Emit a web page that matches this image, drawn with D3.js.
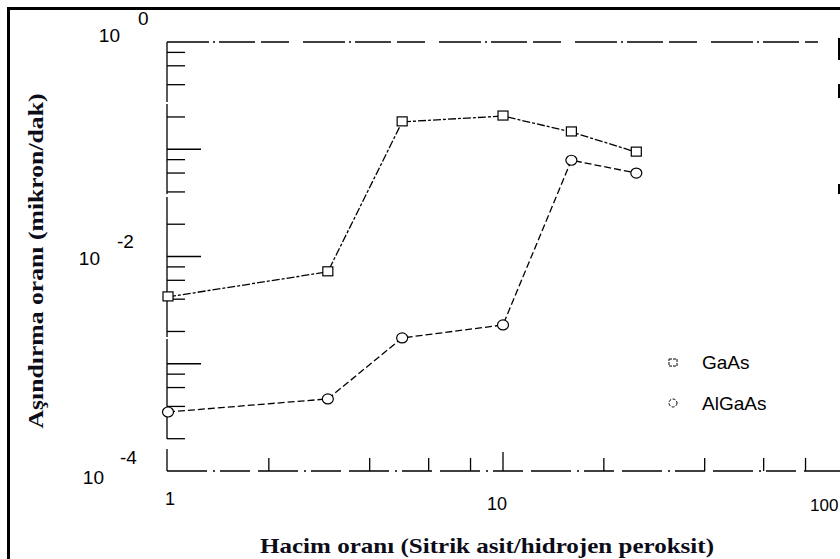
<!DOCTYPE html>
<html>
<head>
<meta charset="utf-8">
<script src="https://cdn.jsdelivr.net/npm/d3@7"></script>
<style>
  body { margin: 0; background: #fff; }
</style>
</head>
<body>
<div id="chart"></div>
<script>
// data
var gaasX = [1, 3, 5, 10, 16, 25];
var gaasY = [0.0042, 0.0072, 0.18, 0.204, 0.145, 0.094];
var algaasX = [1, 3, 5, 10, 16, 25];
var algaasY = [0.000355, 0.00047, 0.00174, 0.0023, 0.079, 0.060];

var seriesNames = ['GaAs', 'AlGaAs'];
var xTickLabels = ['1', '10', '100'];
var yTickExponents = [0, -2, -4];
var xTitle = 'Hacim oranı (Sitrik asit/hidrojen peroksit)';
var yTitle = 'Aşındırma oranı (mikron/dak)';

var width = 840;
var height = 559;
var plot = {left: 167, right: 838, top: 42, bottom: 471};

// the scanned labels are not lined up evenly, small nudges per label
// [base dx, base dy, exponent dx, exponent dy]
var yLabelNudge = {'0': [8, -7, 4, 0], '-2': [-12, 1, 3, 0], '-4': [-8, 6, 2, -3]};
var xLabelNudge = {'1': [2, 34], '10': [-6, 39], '100': [-28, 40]};

var svg = d3.select('#chart')
    .append('svg')
    .attr('width', width)
    .attr('height', height)
    .style('font-family', '"Liberation Sans", Arial, sans-serif');

var x = d3.scaleLog().domain([1, 100]).range([plot.left + 1, plot.right]);
var y = d3.scaleLog().domain([1e-4, 1]).range([plot.bottom, plot.top]);

// outer frame (runs off the right and bottom of the scan)
svg.append('rect')
    .attr('x', 8.5).attr('y', 8.5)
    .attr('width', 900).attr('height', 700)
    .attr('fill', 'none')
    .attr('stroke', '#000')
    .attr('stroke-width', 3);

// axes frame, broken like a photocopy
svg.append('line')
    .attr('x1', plot.left).attr('x2', plot.left)
    .attr('y1', plot.top).attr('y2', plot.bottom)
    .attr('stroke', '#000').attr('stroke-width', 1.3)
    .attr('stroke-dasharray', '60,2,90,3,140,2,100,10,40');

svg.append('line')
    .attr('x1', plot.left).attr('x2', 818)
    .attr('y1', plot.top).attr('y2', plot.top)
    .attr('stroke', '#000').attr('stroke-width', 1.3)
    .attr('stroke-dasharray', '42,4,2,4,36,6,28,14');

svg.append('line')
    .attr('x1', plot.left).attr('x2', width)
    .attr('y1', plot.bottom).attr('y2', plot.bottom)
    .attr('stroke', '#000').attr('stroke-width', 1.3)
    .attr('stroke-dasharray', '40,6,2,5,30,8');

// right axis, mostly cut off by the scan
svg.append('line')
    .attr('x1', 839).attr('x2', 839)
    .attr('y1', 38).attr('y2', 200)
    .attr('stroke', '#000').attr('stroke-width', 2)
    .attr('stroke-dasharray', '22,24,14,86,10');

// y ticks: decades long, 2/4/6/8 short, pointing inward
var yTicks = [];
for (var e = -4; e < 0; e++) {
    [2, 4, 6, 8].forEach(function(m) { yTicks.push({v: m * Math.pow(10, e), major: false}); });
    if (e > -4) yTicks.push({v: Math.pow(10, e), major: true});
}
svg.selectAll('line.ytick')
    .data(yTicks)
    .enter().append('line')
    .attr('class', 'ytick')
    .attr('x1', plot.left)
    .attr('x2', function(d) { return plot.left + (d.major ? 34 : 18); })
    .attr('y1', function(d) { return y(d.v); })
    .attr('y2', function(d) { return y(d.v); })
    .attr('stroke', '#000').attr('stroke-width', 1.3);

// x ticks pointing up
var xTicks = [];
[1, 10].forEach(function(dec) {
    [2, 4, 6, 8].forEach(function(m) { xTicks.push({v: m * dec, major: false}); });
});
xTicks.push({v: 10, major: true});
svg.selectAll('line.xtick')
    .data(xTicks)
    .enter().append('line')
    .attr('class', 'xtick')
    .attr('x1', function(d) { return x(d.v); })
    .attr('x2', function(d) { return x(d.v); })
    .attr('y1', plot.bottom)
    .attr('y2', function(d) { return plot.bottom - (d.major ? 19 : 13); })
    .attr('stroke', '#000').attr('stroke-width', 1.3);

// y tick labels: "10" with a raised exponent
var ylab = svg.selectAll('g.ylab')
    .data(yTickExponents)
    .enter().append('g')
    .attr('class', 'ylab')
    .attr('transform', function(d) {
        var n = yLabelNudge[String(d)];
        return 'translate(' + n[0] + ',' + (y(Math.pow(10, d)) + n[1]) + ')';
    });

ylab.append('text')
    .attr('x', 112)
    .attr('y', 7)
    .attr('text-anchor', 'end')
    .style('font-size', '19px')
    .text('10');

ylab.append('text')
    .attr('x', function(d) { return 126 + yLabelNudge[String(d)][2]; })
    .attr('y', function(d) { return -10 + yLabelNudge[String(d)][3]; })
    .style('font-size', '19px')
    .text(function(d) { return d === 0 ? '0' : '-' + Math.abs(d); });

// x tick labels
svg.selectAll('text.xlab')
    .data(xTickLabels)
    .enter().append('text')
    .attr('class', 'xlab')
    .attr('x', function(d) { return x(+d) + xLabelNudge[d][0]; })
    .attr('y', function(d) { return plot.bottom + xLabelNudge[d][1]; })
    .attr('text-anchor', function(d) { return d === '100' ? 'start' : 'middle'; })
    .style('font-size', function(d) { return d === '100' ? '17px' : '18px'; })
    .text(function(d) { return d; });

// series lines
var line = d3.line()
    .x(function(d) { return x(d[0]); })
    .y(function(d) { return y(d[1]); });

var gaas = d3.zip(gaasX, gaasY);
var algaas = d3.zip(algaasX, algaasY);

svg.append('path')
    .datum(gaas)
    .attr('d', line)
    .attr('fill', 'none')
    .attr('stroke', '#000').attr('stroke-width', 1.3)
    .attr('stroke-dasharray', '8,2,3,2');

svg.append('path')
    .datum(algaas)
    .attr('d', line)
    .attr('fill', 'none')
    .attr('stroke', '#000').attr('stroke-width', 1.3)
    .attr('stroke-dasharray', '7,3');

// markers
svg.selectAll('rect.sq')
    .data(gaas)
    .enter().append('rect')
    .attr('class', 'sq')
    .attr('x', function(d) { return x(d[0]) - 5; })
    .attr('y', function(d) { return y(d[1]) - 5; })
    .attr('width', 10).attr('height', 9)
    .attr('fill', '#fff')
    .attr('stroke', '#000').attr('stroke-width', 1.2);

svg.selectAll('ellipse.ci')
    .data(algaas)
    .enter().append('ellipse')
    .attr('class', 'ci')
    .attr('cx', function(d) { return x(d[0]); })
    .attr('cy', function(d) { return y(d[1]); })
    .attr('rx', 5.5).attr('ry', 5)
    .attr('fill', '#fff')
    .attr('stroke', '#000').attr('stroke-width', 1.2);

// legend
var legend = svg.selectAll('g.legend')
    .data(seriesNames)
    .enter().append('g')
    .attr('class', 'legend')
    .attr('transform', function(d, i) { return 'translate(673,' + (362 + i * 41) + ')'; });

legend.each(function(d, i) {
    var g = d3.select(this);
    if (i === 0) {
        g.append('rect').attr('x', -4).attr('y', -3).attr('width', 8).attr('height', 7)
            .attr('fill', 'none').attr('stroke', '#000').attr('stroke-width', 1)
            .attr('stroke-dasharray', '3,1');
    } else {
        g.append('circle').attr('r', 4)
            .attr('fill', 'none').attr('stroke', '#000').attr('stroke-width', 1)
            .attr('stroke-dasharray', '3,1.5');
    }
});

legend.append('text')
    .attr('x', 29)
    .attr('y', 7)
    .style('font-size', '19px')
    .text(function(d) { return d; });

// axis titles, bold serif
svg.append('text')
    .attr('x', 487)
    .attr('y', 553)
    .attr('text-anchor', 'middle')
    .attr('textLength', 454)
    .attr('lengthAdjust', 'spacingAndGlyphs')
    .style('font-family', '"Liberation Serif", "Times New Roman", serif')
    .style('font-weight', 'bold')
    .style('font-size', '21px')
    .attr('fill', '#0d0d1a')
    .text(xTitle);

svg.append('text')
    .attr('transform', 'translate(43,261) rotate(-90)')
    .attr('text-anchor', 'middle')
    .attr('textLength', 335)
    .attr('lengthAdjust', 'spacingAndGlyphs')
    .style('font-family', '"Liberation Serif", "Times New Roman", serif')
    .style('font-weight', 'bold')
    .style('font-size', '20px')
    .attr('fill', '#0d0d1a')
    .text(yTitle);
</script>
</body>
</html>
